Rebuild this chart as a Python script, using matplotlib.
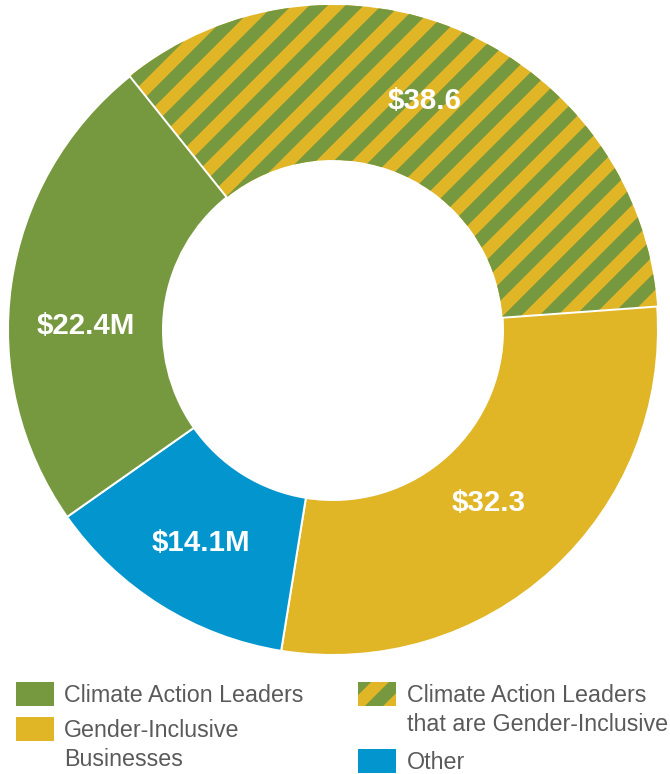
import numpy as np
import matplotlib
matplotlib.use("Agg")
import matplotlib.pyplot as plt
from matplotlib.patches import Rectangle

# data
segments = ["Climate Action Leaders that are Gender-Inclusive",
            "Gender-Inclusive Businesses", "Other", "Climate Action Leaders"]
amount_labels = ["$38.6", "$32.3", "$14.1M", "$22.4M"]
# share of the ring as drawn in the picture (%)
share_pct = [34.6, 28.7, 12.7, 24.0]

green = "#76983e"
gold = "#e0b526"
blue = "#0395ce"
seg_colors = [gold, gold, blue, green]

legend_left = ["Climate Action Leaders", "Gender-Inclusive\nBusinesses"]
legend_right = ["Climate Action Leaders\nthat are Gender-Inclusive", "Other"]

# hatch spacing follows the dpi ('//' = 12 lines per inch)
DPI = 216
W, H = 670, 774


def pt(px):
    return px * 72.0 / DPI


plt.rcParams['font.family'] = ['Liberation Sans', 'DejaVu Sans']
plt.rcParams['hatch.linewidth'] = 4.3

fig = plt.figure(figsize=(W / DPI, H / DPI), dpi=DPI)

cx, cy, R, r = 333, 330, 325, 170
ax = fig.add_axes([(cx - R) / W, (H - cy - R) / H, 2 * R / W, 2 * R / H])

wedges, _ = ax.pie(share_pct, colors=seg_colors, startangle=128.7,
                   counterclock=False, radius=1,
                   wedgeprops=dict(width=(R - r) / R, edgecolor='white',
                                   linewidth=pt(2)))
# striped segment: gold with green stripes
wedges[0].set_edgecolor(green)
wedges[0].set_linewidth(0)
wedges[0].set_hatch('//')

label_dist = [0.767, 0.71, 0.765, 0.762]
angle_nudge = [2, 0, 0, 6.5]
cap = 21 / R
for w, lab, d, nud in zip(wedges, amount_labels, label_dist, angle_nudge):
    a = np.deg2rad((w.theta1 + w.theta2) / 2 + nud)
    ax.text(d * np.cos(a), d * np.sin(a) - cap / 2, lab, color='white',
            fontsize=pt(29.5), fontweight='bold', ha='center', va='baseline')
ax.set_xlim(-1, 1)
ax.set_ylim(-1, 1)

# legend drawn in pixel space
lg = fig.add_axes([0, 0, 1, 1])
lg.set_xlim(0, W)
lg.set_ylim(H, 0)
lg.axis('off')

text_kw = dict(fontsize=pt(23.3), color='#5a5a5a', ha='left', va='baseline')
lg.add_patch(Rectangle((16, 682), 38, 24, facecolor=green, lw=0))
lg.add_patch(Rectangle((16, 717), 38, 24, facecolor=gold, lw=0))
lg.text(64, 702, legend_left[0], **text_kw)
lg.text(64, 737, legend_left[1].split("\n")[0], **text_kw)
lg.text(64, 766, legend_left[1].split("\n")[1], **text_kw)

lg.add_patch(Rectangle((358, 682), 38, 24, facecolor=gold, edgecolor=green,
                       lw=0, hatch='//'))
lg.add_patch(Rectangle((358, 749), 38, 24, facecolor=blue, lw=0))
lg.text(407, 702, legend_right[0].split("\n")[0], **text_kw)
lg.text(407, 731, legend_right[0].split("\n")[1], **text_kw)
lg.text(407, 769, legend_right[1], **text_kw)

fig.savefig("out.png", dpi=DPI)
